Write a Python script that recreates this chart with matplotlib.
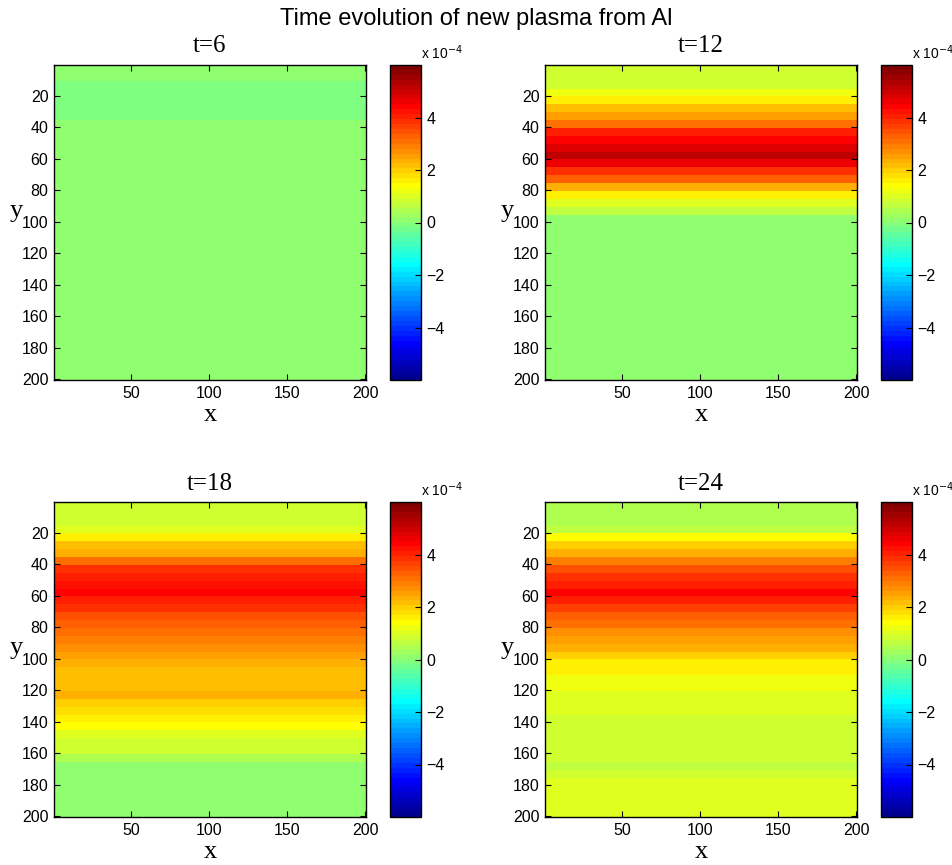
import matplotlib
matplotlib.use("Agg")
import matplotlib.pyplot as plt
import numpy as np
from matplotlib.colors import ListedColormap, Normalize
from matplotlib.cm import ScalarMappable

# y-profiles (units of 1e-4), one value per block of 5 rows (rows 1-5, 6-10, ... 196-200)
times = [6, 12, 18, 24]
prof_t6 = [0.1, 0.1, -0.1, -0.1, -0.1, -0.1, -0.1] + [0.1] * 33
prof_t12 = [0.8, 0.8, 0.85, 1.2, 1.6, 2.1, 2.5, 3.0, 4.0, 4.4,
            4.8, 5.2, 4.5, 3.9, 3.3, 2.3, 1.5, 1.0, 0.6, 0.1] + [0.1] * 20
prof_t18 = [0.8, 0.8, 0.9, 1.1, 1.6, 2.1, 2.4, 3.0, 3.8, 4.0,
            4.2, 4.4, 4.1, 3.8, 3.5, 3.2, 3.0, 2.9, 2.7, 2.5,
            2.4, 2.2, 2.1, 2.2, 2.4, 1.9, 1.7, 1.6, 1.4, 1.1,
            0.9, 0.8, 0.5, 0.1] + [0.1] * 6
prof_t24 = [0.45, 0.45, 0.45, 0.7, 1.4, 1.9, 2.3, 2.9, 3.5, 3.9,
            4.1, 4.35, 4.0, 3.7, 3.3, 3.0, 2.7, 2.5, 2.3, 2.0,
            1.6, 1.5, 1.3, 1.2, 1.05, 1.0, 0.95, 0.9, 0.9, 0.9,
            0.9, 0.9, 0.9, 0.7, 0.9, 1.0, 1.05, 1.05, 1.1, 1.1]
profiles = [prof_t6, prof_t12, prof_t18, prof_t24]
nx = 200
block = 5
clim = 6.0

xticks = [50, 100, 150, 200]
yticks = [20, 40, 60, 80, 100, 120, 140, 160, 180, 200]
cticks = [-4, -2, 0, 2, 4]


def matlab_jet(m=64):
    n = int(np.ceil(m / 4))
    u = np.concatenate([np.arange(1, n + 1) / n, np.ones(n - 1), np.arange(n, 0, -1) / n])
    g = int(np.ceil(n / 2)) - (m % 4 == 1) + np.arange(1, len(u) + 1)
    r = g + n
    b = g - n
    cmap = np.zeros((m, 3))
    ok = g <= m
    cmap[g[ok] - 1, 1] = u[ok]
    ok = r <= m
    cmap[r[ok] - 1, 0] = u[ok]
    ok = b >= 1
    cmap[b[ok] - 1, 2] = u[ok]
    return ListedColormap(cmap)


cmap = matlab_jet(64)
norm = Normalize(-clim, clim)

fig = plt.figure(figsize=(9.53, 8.65), dpi=100)
W, H = 953, 865

# pixel boxes: (left, top) of each image axes
boxes = [(54, 65), (545, 65), (54, 502), (545, 502)]
aw, ah = 312, 315
cb_off, cbw = 336, 31

sans = ["Liberation Sans", "DejaVu Sans"]
serif = ["Liberation Serif", "DejaVu Serif"]

for (px, py), t, prof in zip(boxes, times, profiles):
    ax = fig.add_axes([px / W, 1 - (py + ah) / H, aw / W, ah / H])
    col = np.repeat(np.array(prof), block)
    Z = np.tile(col[:, None], (1, nx))
    ax.imshow(Z, cmap=cmap, norm=norm, aspect="auto", interpolation="nearest",
              extent=(0.5, nx + 0.5, len(col) + 0.5, 0.5))
    ax.set_xticks(xticks)
    ax.set_yticks(yticks)
    ax.tick_params(direction="in", top=True, right=True, length=4, width=0.8,
                   labelsize=11.5, pad=4)
    for lab in ax.get_xticklabels() + ax.get_yticklabels():
        lab.set_family(sans)
    for s in ax.spines.values():
        s.set_linewidth(1.0)
    ax.set_title("t=%d" % t, family=serif, fontsize=18, pad=9)
    ax.set_xlabel("x", family=serif, fontsize=19)
    ax.xaxis.set_label_coords(0.5, -0.075)
    ax.xaxis.label.set_va("top")
    ax.set_ylabel("y", family=serif, fontsize=19, rotation=0, ha="right", va="center")
    ax.yaxis.set_label_coords(-0.1, 0.535)

    cax = fig.add_axes([(px + cb_off) / W, 1 - (py + ah) / H, cbw / W, ah / H])
    cb = fig.colorbar(ScalarMappable(norm=norm, cmap=cmap), cax=cax, ticks=cticks)
    cb.outline.set_linewidth(1.0)
    cax.tick_params(direction="in", length=4, width=0.8, labelsize=11.5, pad=4)
    for lab in cax.get_yticklabels():
        lab.set_family(sans)
    # multiplier label above the colorbar (kept inside the figure on the right column)
    lab_x = min((px + cb_off + cbw) / W, 949 / W)
    ha = "left" if lab_x < 940 / W else "right"
    cax.text(lab_x if ha == "left" else 949 / W, 1 - (py - 3) / H, r"x 10$^{-4}$",
             transform=fig.transFigure, ha=ha, va="bottom", family=sans, fontsize=10)

fig.text(0.5, 1 - 19 / H, "Time evolution of new plasma from Al", ha="center", va="center",
         family=sans, fontsize=17)

fig.savefig("out.png", dpi=100)
